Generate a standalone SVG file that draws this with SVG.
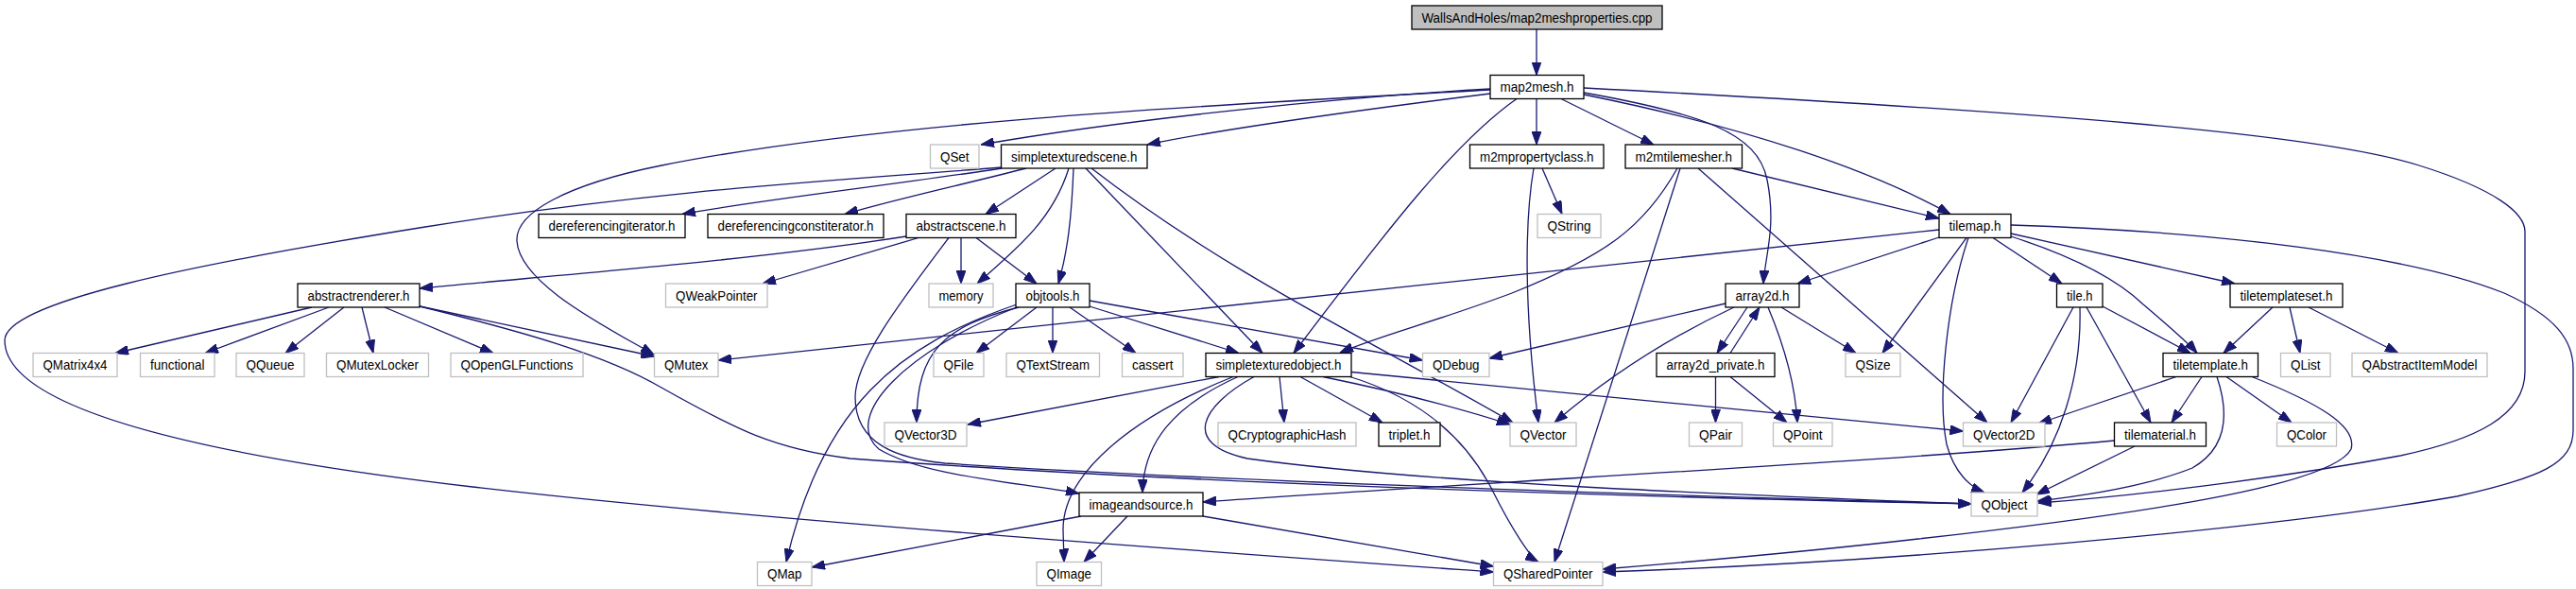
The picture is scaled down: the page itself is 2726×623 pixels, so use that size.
<svg xmlns="http://www.w3.org/2000/svg" width="2726" height="623" viewBox="0 0 2726 623">
<defs>
<style>
.n rect{fill:#fff;stroke:#000;stroke-width:1.3}
.x rect{fill:#fff;stroke:#bfbfbf;stroke-width:1.3}
.h rect{fill:#bfbfbf;stroke:#000;stroke-width:1.3}
text{font-family:"Liberation Sans",Arial,sans-serif;font-size:14px;fill:#000;text-anchor:middle}
#edges path{fill:none;stroke:#191970;stroke-width:1.3;marker-end:url(#ah)}
</style>
<marker id="ah" markerUnits="userSpaceOnUse" markerWidth="14" markerHeight="10" refX="14" refY="5" orient="auto">
<path d="M0,0 L14,5 L0,10 Z" fill="#191970" stroke="#191970" stroke-width="1"/>
</marker>
</defs>
<rect width="2726" height="623" fill="#fff"/>
<g id="edges">
<path d="M1626,31 L1626,79.5"/>
<path d="M1577,94 C1420,103 1200,125 1038,153"/>
<path d="M1577,95 C1350,108 950,125 700,175 C600,195 545,225 547,255 C550,300 640,345 692,375"/>
<path d="M1577,99 C1450,115 1300,135 1214,153"/>
<path d="M1605,104.5 C1540,150 1470,240 1369,373.5"/>
<path d="M1626,104.5 L1626,153"/>
<path d="M1652,104.5 L1750,153"/>
<path d="M1676,98 C1800,120 1860,140 1870,190 C1880,240 1868,270 1866,300"/>
<path d="M1676,100 C1850,135 1980,180 2064,226.5"/>
<path d="M1676,93 C2150,118 2450,140 2560,175 C2640,200 2672,225 2672,245 L2672,393 C2672,440 2620,465 2540,482 C2400,508 2250,525 2157,532"/>
<path d="M1060,177 C900,190 700,200 450,240 C200,280 5,320 5,360 C5,430 200,480 500,515 C800,550 1300,585 1580.5,605"/>
<path d="M1060,178 C950,195 800,212 722,226.5"/>
<path d="M1086,178 C1020,195 950,210 894,226.5"/>
<path d="M1117,178 L1043,226.5"/>
<path d="M1131,178 C1115,230 1080,260 1034,300"/>
<path d="M1136,178 C1134,230 1130,265 1120,300"/>
<path d="M1149,178 L1336,373.5"/>
<path d="M1155,178 C1300,290 1450,360 1601,447"/>
<path d="M959,250 C800,275 600,290 444,305"/>
<path d="M972,251.5 L807,300"/>
<path d="M1017,251.5 L1017,300"/>
<path d="M1033,251.5 L1097,300"/>
<path d="M1004,251.5 C960,310 905,380 905,420 C905,470 950,485 1000,490 C1300,510 1800,525 2086,533"/>
<path d="M330,325 L122,373.5"/>
<path d="M348,325 L217,373.5"/>
<path d="M364,325 L302,373.5"/>
<path d="M383,325 L395,373.5"/>
<path d="M407,325 L522,373.5"/>
<path d="M442,323.5 L692.5,377"/>
<path d="M444,324 C550,350 640,375 700,410 C780,455 820,475 900,485 C1300,515 1800,527 2086,533"/>
<path d="M1097,325 L1033,373.5"/>
<path d="M1114,325 L1114,373.5"/>
<path d="M1132,325 L1202,373.5"/>
<path d="M1153,324 L1311,373.5"/>
<path d="M1153,318 C1300,345 1420,365 1505.5,381"/>
<path d="M1078,325 C1000,345 970,370 970,447"/>
<path d="M1076,322 C950,365 870,430 832,594.5"/>
<path d="M1076,325 C960,370 890,440 930,475 C980,505 1080,510 1142,522"/>
<path d="M1290,398.5 L1024,449"/>
<path d="M1305,398.5 C1200,440 1125,500 1125,560 L1126,594.5"/>
<path d="M1310,398.5 C1240,430 1210,470 1209,521"/>
<path d="M1327,398.5 C1270,430 1250,470 1320,485 C1500,510 1800,522 2086,533"/>
<path d="M1354,398.5 L1359,447"/>
<path d="M1376,398.5 L1463,447"/>
<path d="M1400,398.5 C1480,415 1540,430 1598,449"/>
<path d="M1427,398 C1500,420 1550,460 1580,520 C1600,560 1620,590 1628,594.5"/>
<path d="M1430,393.5 L2077.5,456"/>
<path d="M1632,178 L1653,226.5"/>
<path d="M1623,178 C1614,230 1612,320 1628,447"/>
<path d="M1775,178 C1740,240 1700,270 1600,310 C1520,340 1460,355 1418,373"/>
<path d="M1778,178 L1645,594.5"/>
<path d="M1797,178 L2103,447"/>
<path d="M1833,178 L2052,231"/>
<path d="M2052,243 L760,381"/>
<path d="M2052,251 L1902,300"/>
<path d="M2081,251.5 L1992,373.5"/>
<path d="M2083,251.5 C2060,320 2050,420 2060,470 C2068,500 2085,515 2100,521"/>
<path d="M2109,251.5 L2182,300"/>
<path d="M2128,250 C2190,270 2240,295 2268,322 C2295,345 2315,362 2325,373.5"/>
<path d="M2128,247 L2365,300"/>
<path d="M2128,238 C2350,245 2550,270 2650,310 C2705,335 2723,360 2723,390 L2723,455 C2723,490 2690,505 2600,525 C2400,560 2000,595 1696,605"/>
<path d="M2383,398.5 C2450,425 2495,450 2488,475 C2470,510 2300,540 2030,570 C1900,585 1780,595 1696,602"/>
<path d="M2303,398.5 L2157,448"/>
<path d="M2330,398.5 L2298,447"/>
<path d="M2346,398.5 C2360,440 2355,475 2320,495 C2270,515 2200,525 2156,530"/>
<path d="M2356,398.5 L2425,447"/>
<path d="M2194,325 L2128,447"/>
<path d="M2201,325 C2203,400 2180,470 2140,521"/>
<path d="M2208,325 L2276,447"/>
<path d="M2225,324 L2318,373.5"/>
<path d="M2405,325 L2353,373.5"/>
<path d="M2423,325 L2434,373.5"/>
<path d="M2443,325 L2538,373.5"/>
<path d="M2237.5,466 C2000,488 1600,508 1273,531"/>
<path d="M2259,472 L2155,523"/>
<path d="M1826,321 L1576,379"/>
<path d="M1835,325 C1760,360 1700,400 1645,447"/>
<path d="M1849,325 L1817,373.5"/>
<path d="M1831,373.5 L1862,325"/>
<path d="M1871,325 C1890,370 1900,410 1902,447"/>
<path d="M1885,325 L1964,373.5"/>
<path d="M1815.5,398.5 L1815.5,447"/>
<path d="M1831,398.5 L1891,447"/>
<path d="M1144,546 L859,600"/>
<path d="M1193,546 L1147,594.5"/>
<path d="M1273,546 L1580.5,599"/>
</g>
<g id="header" class="h"><rect x="1494" y="6" width="265" height="25"/><text x="1626.5" y="23.5" textLength="244" lengthAdjust="spacingAndGlyphs">WallsAndHoles/map2meshproperties.cpp</text></g>
<g id="map2mesh" class="n"><rect x="1577" y="79.5" width="99" height="25"/><text x="1626.5" y="97" textLength="78" lengthAdjust="spacingAndGlyphs">map2mesh.h</text></g>
<g id="QSet" class="x"><rect x="984.5" y="153" width="51.5" height="25"/><text x="1010.25" y="170.5" textLength="30.5" lengthAdjust="spacingAndGlyphs">QSet</text></g>
<g id="simpletexturedscene" class="n"><rect x="1059.5" y="153" width="154.5" height="25"/><text x="1136.75" y="170.5" textLength="133.5" lengthAdjust="spacingAndGlyphs">simpletexturedscene.h</text></g>
<g id="m2mpropertyclass" class="n"><rect x="1555.5" y="153" width="141.5" height="25"/><text x="1626.25" y="170.5" textLength="120.5" lengthAdjust="spacingAndGlyphs">m2mpropertyclass.h</text></g>
<g id="m2mtilemesher" class="n"><rect x="1720" y="153" width="123.5" height="25"/><text x="1781.75" y="170.5" textLength="102.5" lengthAdjust="spacingAndGlyphs">m2mtilemesher.h</text></g>
<g id="dereferencingiterator" class="n"><rect x="570" y="226.5" width="155" height="25"/><text x="647.5" y="244" textLength="134" lengthAdjust="spacingAndGlyphs">dereferencingiterator.h</text></g>
<g id="dereferencingconstiterator" class="n"><rect x="749" y="226.5" width="186" height="25"/><text x="842" y="244" textLength="165" lengthAdjust="spacingAndGlyphs">dereferencingconstiterator.h</text></g>
<g id="abstractscene" class="n"><rect x="959" y="226.5" width="116" height="25"/><text x="1017" y="244" textLength="95" lengthAdjust="spacingAndGlyphs">abstractscene.h</text></g>
<g id="QString" class="x"><rect x="1627" y="226.5" width="67" height="25"/><text x="1660.5" y="244" textLength="46" lengthAdjust="spacingAndGlyphs">QString</text></g>
<g id="tilemap" class="n"><rect x="2052" y="226.5" width="76" height="25"/><text x="2090" y="244" textLength="55" lengthAdjust="spacingAndGlyphs">tilemap.h</text></g>
<g id="abstractrenderer" class="n"><rect x="315" y="300" width="129" height="25"/><text x="379.5" y="317.5" textLength="108" lengthAdjust="spacingAndGlyphs">abstractrenderer.h</text></g>
<g id="QWeakPointer" class="x"><rect x="704.5" y="300" width="107.5" height="25"/><text x="758.25" y="317.5" textLength="86.5" lengthAdjust="spacingAndGlyphs">QWeakPointer</text></g>
<g id="memory" class="x"><rect x="983" y="300" width="68" height="25"/><text x="1017" y="317.5" textLength="47" lengthAdjust="spacingAndGlyphs">memory</text></g>
<g id="objtools" class="n"><rect x="1075" y="300" width="78" height="25"/><text x="1114" y="317.5" textLength="57" lengthAdjust="spacingAndGlyphs">objtools.h</text></g>
<g id="array2d" class="n"><rect x="1826" y="300" width="78" height="25"/><text x="1865" y="317.5" textLength="57" lengthAdjust="spacingAndGlyphs">array2d.h</text></g>
<g id="tile" class="n"><rect x="2176.5" y="300" width="48.5" height="25"/><text x="2200.75" y="317.5" textLength="27.5" lengthAdjust="spacingAndGlyphs">tile.h</text></g>
<g id="tiletemplateset" class="n"><rect x="2360" y="300" width="119" height="25"/><text x="2419.5" y="317.5" textLength="98" lengthAdjust="spacingAndGlyphs">tiletemplateset.h</text></g>
<g id="QMatrix4x4" class="x"><rect x="35" y="373.5" width="89" height="25"/><text x="79.5" y="391" textLength="68" lengthAdjust="spacingAndGlyphs">QMatrix4x4</text></g>
<g id="functional" class="x"><rect x="148.5" y="373.5" width="78.5" height="25"/><text x="187.75" y="391" textLength="57.5" lengthAdjust="spacingAndGlyphs">functional</text></g>
<g id="QQueue" class="x"><rect x="250" y="373.5" width="72" height="25"/><text x="286" y="391" textLength="51" lengthAdjust="spacingAndGlyphs">QQueue</text></g>
<g id="QMutexLocker" class="x"><rect x="345.5" y="373.5" width="108" height="25"/><text x="399.5" y="391" textLength="87" lengthAdjust="spacingAndGlyphs">QMutexLocker</text></g>
<g id="QOpenGLFunctions" class="x"><rect x="477" y="373.5" width="140" height="25"/><text x="547" y="391" textLength="119" lengthAdjust="spacingAndGlyphs">QOpenGLFunctions</text></g>
<g id="QMutex" class="x"><rect x="692.5" y="373.5" width="67.5" height="25"/><text x="726.25" y="391" textLength="46.5" lengthAdjust="spacingAndGlyphs">QMutex</text></g>
<g id="QFile" class="x"><rect x="988" y="373.5" width="53" height="25"/><text x="1014.5" y="391" textLength="32" lengthAdjust="spacingAndGlyphs">QFile</text></g>
<g id="QTextStream" class="x"><rect x="1065" y="373.5" width="98.5" height="25"/><text x="1114.25" y="391" textLength="77.5" lengthAdjust="spacingAndGlyphs">QTextStream</text></g>
<g id="cassert" class="x"><rect x="1187.5" y="373.5" width="64.5" height="25"/><text x="1219.75" y="391" textLength="43.5" lengthAdjust="spacingAndGlyphs">cassert</text></g>
<g id="simpletexturedobject" class="n"><rect x="1276" y="373.5" width="154" height="25"/><text x="1353" y="391" textLength="133" lengthAdjust="spacingAndGlyphs">simpletexturedobject.h</text></g>
<g id="QDebug" class="x"><rect x="1505.5" y="373.5" width="70.5" height="25"/><text x="1540.75" y="391" textLength="49.5" lengthAdjust="spacingAndGlyphs">QDebug</text></g>
<g id="array2d_private" class="n"><rect x="1753" y="373.5" width="125" height="25"/><text x="1815.5" y="391" textLength="104" lengthAdjust="spacingAndGlyphs">array2d_private.h</text></g>
<g id="QSize" class="x"><rect x="1953" y="373.5" width="58" height="25"/><text x="1982" y="391" textLength="37" lengthAdjust="spacingAndGlyphs">QSize</text></g>
<g id="tiletemplate" class="n"><rect x="2289" y="373.5" width="100.5" height="25"/><text x="2339.25" y="391" textLength="79.5" lengthAdjust="spacingAndGlyphs">tiletemplate.h</text></g>
<g id="QList" class="x"><rect x="2413.5" y="373.5" width="52.5" height="25"/><text x="2439.75" y="391" textLength="31.5" lengthAdjust="spacingAndGlyphs">QList</text></g>
<g id="QAbstractItemModel" class="x"><rect x="2489" y="373.5" width="143" height="25"/><text x="2560.5" y="391" textLength="122" lengthAdjust="spacingAndGlyphs">QAbstractItemModel</text></g>
<g id="QVector3D" class="x"><rect x="936" y="447" width="87" height="25"/><text x="979.5" y="464.5" textLength="66" lengthAdjust="spacingAndGlyphs">QVector3D</text></g>
<g id="QCryptographicHash" class="x"><rect x="1289" y="447" width="146" height="25"/><text x="1362" y="464.5" textLength="125" lengthAdjust="spacingAndGlyphs">QCryptographicHash</text></g>
<g id="triplet" class="n"><rect x="1459" y="447" width="65" height="25"/><text x="1491.5" y="464.5" textLength="44" lengthAdjust="spacingAndGlyphs">triplet.h</text></g>
<g id="QVector" class="x"><rect x="1598" y="447" width="70" height="25"/><text x="1633" y="464.5" textLength="49" lengthAdjust="spacingAndGlyphs">QVector</text></g>
<g id="QPair" class="x"><rect x="1787.5" y="447" width="56" height="25"/><text x="1815.5" y="464.5" textLength="35" lengthAdjust="spacingAndGlyphs">QPair</text></g>
<g id="QPoint" class="x"><rect x="1876.5" y="447" width="62.5" height="25"/><text x="1907.75" y="464.5" textLength="41.5" lengthAdjust="spacingAndGlyphs">QPoint</text></g>
<g id="QVector2D" class="x"><rect x="2077.5" y="447" width="86.5" height="25"/><text x="2120.75" y="464.5" textLength="65.5" lengthAdjust="spacingAndGlyphs">QVector2D</text></g>
<g id="tilematerial" class="n"><rect x="2237.5" y="447" width="97" height="25"/><text x="2286" y="464.5" textLength="76" lengthAdjust="spacingAndGlyphs">tilematerial.h</text></g>
<g id="QColor" class="x"><rect x="2409.5" y="447" width="63" height="25"/><text x="2441" y="464.5" textLength="42" lengthAdjust="spacingAndGlyphs">QColor</text></g>
<g id="imageandsource" class="n"><rect x="1142" y="521" width="131" height="25"/><text x="1207.5" y="538.5" textLength="110" lengthAdjust="spacingAndGlyphs">imageandsource.h</text></g>
<g id="QObject" class="x"><rect x="2086" y="521" width="70" height="25"/><text x="2121" y="538.5" textLength="49" lengthAdjust="spacingAndGlyphs">QObject</text></g>
<g id="QMap" class="x"><rect x="801.5" y="594.5" width="57.5" height="25"/><text x="830.25" y="612" textLength="36.5" lengthAdjust="spacingAndGlyphs">QMap</text></g>
<g id="QImage" class="x"><rect x="1097" y="594.5" width="68.5" height="25"/><text x="1131.25" y="612" textLength="47.5" lengthAdjust="spacingAndGlyphs">QImage</text></g>
<g id="QSharedPointer" class="x"><rect x="1580.5" y="594.5" width="115.5" height="25"/><text x="1638.25" y="612" textLength="94.5" lengthAdjust="spacingAndGlyphs">QSharedPointer</text></g>
</svg>
